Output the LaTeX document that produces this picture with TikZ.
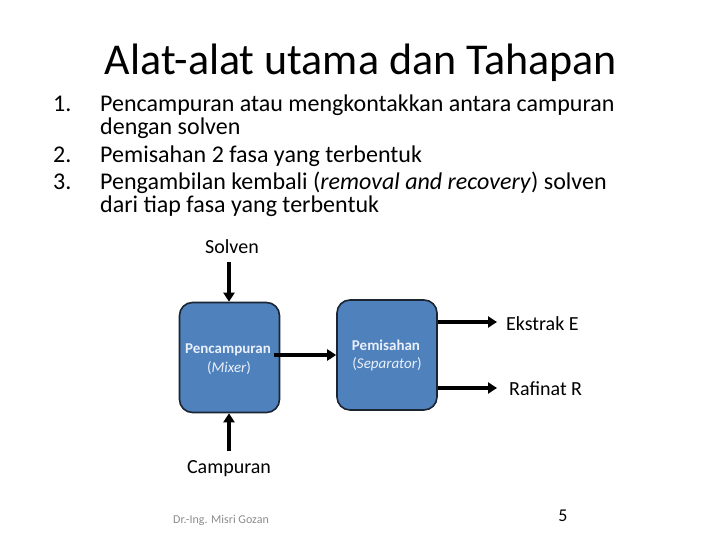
\documentclass[tikz,border=0pt]{standalone}
\usepackage{fontspec}
\setmainfont{Carlito}
\usetikzlibrary{arrows.meta}
\definecolor{boxblue}{HTML}{4F81BD}
\definecolor{boxedge}{HTML}{1A2433}
\definecolor{boxtext}{HTML}{EAF0FA}
\definecolor{foot}{HTML}{8C8C8C}
\tikzset{
  proc/.style={draw=boxedge, line width=1.6pt, fill=boxblue, rounded corners=13pt,
    minimum width=100pt, minimum height=110pt, inner sep=0pt},
  flow/.style={line width=3.4pt, -{Triangle[length=9pt,width=11pt]}},
  lbl/.style={font=\fontsize{20}{24}\selectfont, inner sep=0pt, anchor=base},
  inbox/.style={text=boxtext, font=\fontsize{15}{18}\selectfont, inner sep=0pt, anchor=base},
  item/.style={anchor=base west, font=\fontsize{24}{24}\selectfont, inner sep=0pt}
}
\begin{document}
\begin{tikzpicture}[x=1pt,y=-1pt]
\useasboundingbox (0,0) rectangle (720,540);
\node[font=\fontsize{44}{48}\selectfont, inner sep=0pt, anchor=base] (title) at (361,75) {Alat-alat utama dan Tahapan};
\node[item] (n1) at (53,112) {1.};
\node[item] (n2) at (53,163) {2.};
\node[item] (n3) at (53,190) {3.};
\node[item] (t1a) at (100,112) {Pencampuran atau mengkontakkan antara campuran};
\node[item] (t1b) at (100,135) {dengan solven};
\node[item] (t2) at (100,163) {Pemisahan 2 fasa yang terbentuk};
\node[item] (t3a) at (100,190) {Pengambilan kembali (\textit{removal and recovery}) solven};
\node[item] (t3b) at (100,213) {dari tiap fasa yang terbentuk};

\node[proc] (mix) at (229.5,357.5) {};
\node[proc] (sep) at (387,355) {};
\node[inbox] (mixa) at (228,353) {\bfseries Pencampuran};
\node[inbox] (mixb) at (229,372) {(\textit{Mixer})};
\node[inbox] (sepa) at (386,350) {\bfseries Pemisahan};
\node[inbox] (sepb) at (387,368) {(\textit{Separator})};

\node[lbl] (solv) at (232,253) {Solven};
\node[lbl] (camp) at (229,473) {Campuran};
\node[lbl, anchor=base west] (ekst) at (506,330) {Ekstrak E};
\node[lbl, anchor=base west] (raf) at (509,395) {Rafinat R};

\coordinate (s0) at (229,262);
\coordinate (c0) at (229,451);
\draw[flow] (s0) -- (mix.north -| s0);
\draw[flow] (c0) -- (mix.south -| c0);
\draw[flow] (274,355) -- (sep.west |- 0,355);
\coordinate (e1) at (497,322);
\coordinate (r1) at (497,388);
\draw[flow] (sep.east |- e1) -- (e1);
\draw[flow] (sep.east |- r1) -- (r1);

\node[font=\fontsize{12}{14}\selectfont, text=foot, inner sep=0pt, anchor=base] (foot) at (221,523) {Dr.-Ing. Misri Gozan};
\node[font=\fontsize{18}{20}\selectfont, inner sep=0pt, anchor=base] (pg) at (563,521) {5};
\end{tikzpicture}
\end{document}
